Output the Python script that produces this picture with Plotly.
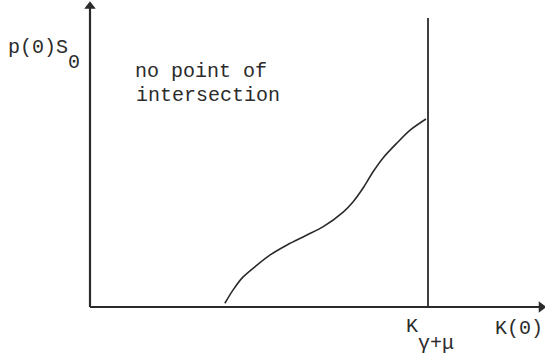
import plotly.graph_objects as go

# Curve p(0)S0 as a function of K(0), in axis units
k_values = [3.99, 4.23, 4.53, 4.94, 5.33, 5.83, 6.42, 6.89, 7.49, 7.78, 8.08, 8.37, 8.67, 9.08, 9.47, 9.94]
ps_values = [0.20, 0.90, 1.60, 2.23, 2.77, 3.30, 3.83, 4.26, 5.05, 5.59, 6.33, 7.18, 7.93, 8.72, 9.41, 10.0]

# Threshold K_{gamma+mu} and axis extents
k_threshold = 10.0
threshold_top = 15.37
y_axis_top = 16.0
x_axis_end = 13.35

INK = "#2b2b2b"
FONT = dict(family="Liberation Mono, Courier New, monospace", size=20, color=INK)

W, H = 545, 354


def px(x, y):
    """Pixel position -> paper coordinates."""
    return x / W, 1 - y / H


fig = go.Figure()

# Axes drawn as lines
fig.add_trace(go.Scatter(x=[0, 0], y=[0, y_axis_top], mode="lines",
                         line=dict(color=INK, width=2.2), hoverinfo="skip"))
fig.add_trace(go.Scatter(x=[0, x_axis_end], y=[0, 0], mode="lines",
                         line=dict(color=INK, width=2.2), hoverinfo="skip"))
# Arrow heads
fig.add_trace(go.Scatter(x=[0], y=[y_axis_top], mode="markers",
                         marker=dict(symbol="triangle-up", size=10, color=INK), hoverinfo="skip"))
fig.add_trace(go.Scatter(x=[x_axis_end], y=[0], mode="markers",
                         marker=dict(symbol="triangle-right", size=10, color=INK), hoverinfo="skip"))

# Vertical threshold line
fig.add_trace(go.Scatter(x=[k_threshold, k_threshold], y=[0, threshold_top], mode="lines",
                         line=dict(color=INK, width=1.8), hoverinfo="skip"))

# Curve
fig.add_trace(go.Scatter(x=k_values, y=ps_values, mode="lines",
                         line=dict(color=INK, width=1.6, shape="spline", smoothing=0.8),
                         hoverinfo="skip"))

labels = [
    ("p(0)S", 6, 48),
    ("0", 66, 62),
    ("no point of", 133, 71),
    ("intersection", 134, 95),
    ("K", 404, 326),
    ("\u03b3+\u03bc", 416, 343),
    ("K(0)", 493, 328),
]
annotations = []
for text, x, y in labels:
    xp, yp = px(x, y)
    annotations.append(dict(text=text, x=xp, y=yp, xref="paper", yref="paper",
                            xanchor="left", yanchor="middle", showarrow=False, font=FONT))

fig.update_layout(
    width=W, height=H,
    margin=dict(l=0, r=0, t=0, b=0),
    paper_bgcolor="white", plot_bgcolor="white",
    showlegend=False,
    xaxis=dict(range=[-90 / 33.8, (W - 90) / 33.8], visible=False, fixedrange=True),
    yaxis=dict(range=[-(H - 307) / 18.8, 307 / 18.8], visible=False, fixedrange=True),
    annotations=annotations,
)

fig.write_html("out.html")
